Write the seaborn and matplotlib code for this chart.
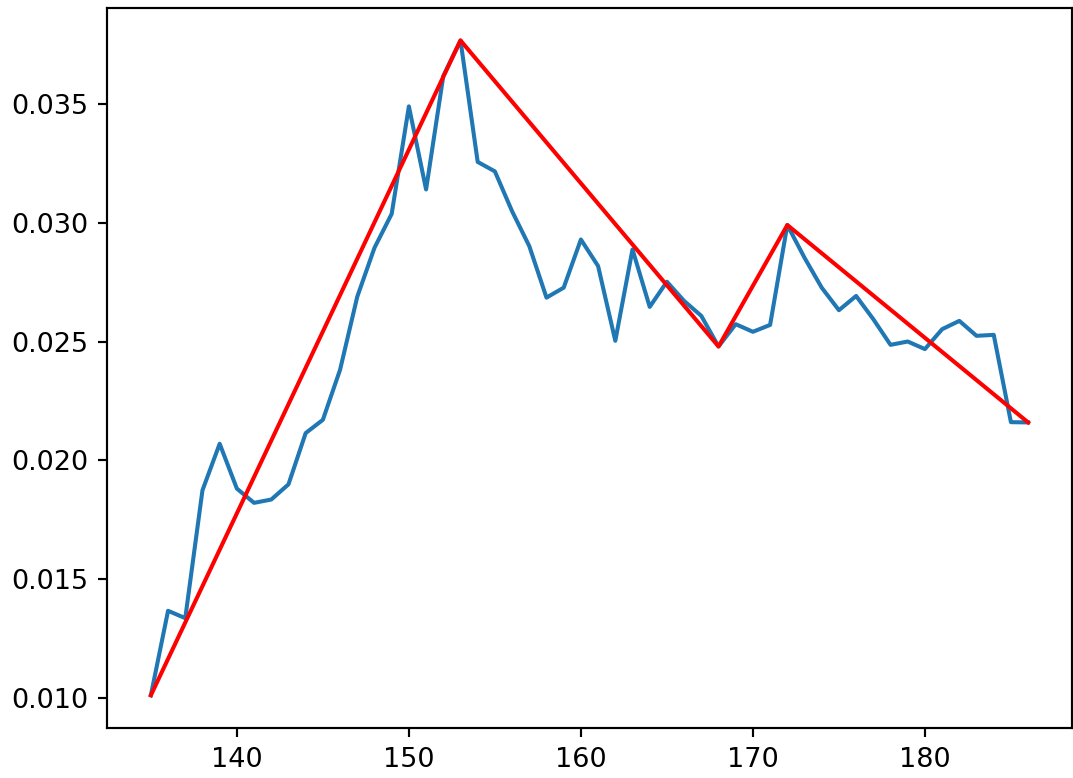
import matplotlib
matplotlib.use("Agg")
import matplotlib.pyplot as plt
import seaborn as sns
import pandas as pd

x_values = list(range(135, 187))
y_values = [
    0.0101, 0.01366, 0.01335, 0.01874, 0.02070, 0.01881, 0.01821, 0.01835, 0.01899, 0.02115,
    0.02171, 0.02382, 0.02690, 0.02896, 0.03039, 0.03492, 0.03142, 0.03620, 0.03770, 0.03258,
    0.03218, 0.03050, 0.02903, 0.02686, 0.02728, 0.02931, 0.02819, 0.02504, 0.02889, 0.02647,
    0.02753, 0.02672, 0.02609, 0.02480, 0.02574, 0.02542, 0.02571, 0.02992, 0.02854, 0.02728,
    0.02633, 0.02693, 0.02595, 0.02487, 0.02501, 0.02469, 0.02553, 0.02588, 0.02525, 0.02529,
    0.02161, 0.02160,
]

zz_x = [135, 153, 168, 172, 186]
zz_y = [0.0101, 0.0377, 0.0248, 0.02992, 0.0216]

df = pd.DataFrame({"x": x_values, "y": y_values})
dz = pd.DataFrame({"x": zz_x, "y": zz_y})

dpi = 195
fig = plt.figure(figsize=(1073 / dpi, 778 / dpi), dpi=dpi)
ax = fig.add_axes([107 / 1073, 50 / 778, 965 / 1073, 720.3 / 778])

sns.lineplot(data=df, x="x", y="y", ax=ax, color="#1f77b4", linewidth=1.5)
sns.lineplot(data=dz, x="x", y="y", ax=ax, color="red", linewidth=1.5)

ax.set_xlabel("")
ax.set_ylabel("")
ax.set_yticks([0.010, 0.015, 0.020, 0.025, 0.030, 0.035])
ax.set_yticklabels(["0.010", "0.015", "0.020", "0.025", "0.030", "0.035"])

fig.savefig("out.png", dpi=dpi)
